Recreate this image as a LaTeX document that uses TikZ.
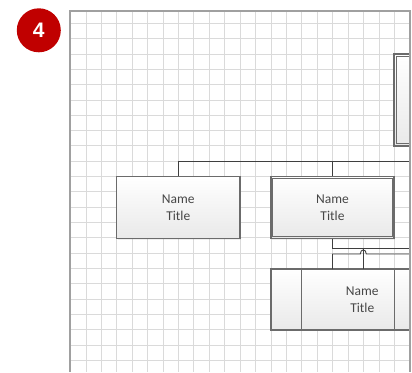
\documentclass[tikz,border=0pt]{standalone}
\usepackage{fontspec}
\setmainfont{Carlito}
\newfontfamily\badgefont{Liberation Sans Bold}
\usetikzlibrary{calc,shadows}
\definecolor{gridc}{HTML}{DADADA}
\definecolor{borderc}{HTML}{A0A0A0}
\definecolor{boxc}{HTML}{6B6B6B}
\definecolor{linec}{HTML}{3F3F3F}
\definecolor{badgec}{HTML}{C00000}
\definecolor{txtc}{HTML}{474747}
\definecolor{boxbot}{HTML}{E9E9E9}
\begin{document}
\begin{tikzpicture}[x=1pt,y=-1pt,
  gridline/.style={draw=gridc, line width=0.9pt},
  orgbox/.style={draw=boxc, line width=1.2pt, top color=white, bottom color=boxbot,
    inner sep=0pt, rectangle,
    drop shadow={shadow xshift=1pt, shadow yshift=-1.2pt, opacity=0.12}},
  innerline/.style={draw=boxc, line width=1.2pt},
  conn/.style={draw=linec, line width=0.9pt},
  lbl/.style={align=center, text=txtc, font=\fontsize{13.5}{17}\selectfont, inner sep=0pt},
  pageborder/.style={draw=borderc, line width=2pt}]
\useasboundingbox (0,0) rectangle (412,372);
\fill[white] (0,0) rectangle (412,372);
\begin{scope}
\clip (69.5,10.5) rectangle (409.5,372);
% grid
\foreach \i in {-1,...,21} \draw[gridline] (86+15.42*\i,10) -- (86+15.42*\i,372);
\foreach \j in {-1,...,22} \draw[gridline] (69,23.3+15.33*\j) -- (410,23.3+15.33*\j);
% boxes
\node[orgbox, minimum width=123.3pt, minimum height=61.6pt] (b1) at (178.3,207.5) {};
\node[lbl] (t1) at (b1.center) {Name\\Title};
\node[orgbox, minimum width=123pt, minimum height=61.6pt] (b2) at (332.5,207.5) {};
\draw[innerline] ($(b2.north west)+(2.4,2.4)$) rectangle ($(b2.south east)+(-2.4,-2.4)$);
\node[lbl] (t2) at (b2.center) {Name\\Title};
\node[orgbox, minimum width=154pt, minimum height=61pt] (b3) at (348,299.5) {};
\draw[innerline] (301.7,269) -- (301.7,330);
\draw[innerline] (394.3,269) -- (394.3,330);
\node[lbl] (t3) at (362.3,299.5) {Name\\Title};
\node[orgbox, minimum width=40pt, minimum height=92pt] (b4) at (414,100) {};
\draw[innerline] ($(b4.north west)+(3.3,3.3)$) rectangle ($(b4.south east)+(-3.3,-3.3)$);
% connectors
\coordinate (e1) at (412,161);
\coordinate (j1) at (b1.north |- e1);
\draw[conn] (b1.north) -- (j1) -- (e1);
\draw[conn] (b2.north) -- (b2.north |- e1);
\coordinate (k1) at (b2.south |- 0,248.3);
\coordinate (e2) at (412,248.3);
\draw[conn] (b2.south) -- (k1) -- (e2);
\coordinate (s1) at (332.5,269);
\coordinate (s2) at (332.5,254);
\coordinate (h1) at (360.3,254);
\coordinate (h2) at (366.3,254);
\coordinate (e3) at (412,254);
\draw[conn] (s1) -- (s2) -- (h1) .. controls (360.3,248.6) and (366.3,248.6) .. (h2) -- (e3);
\coordinate (v1) at (363.3,269);
\coordinate (v2) at (363.3,248.3);
\draw[conn] (v1) -- (v2);
\end{scope}
% page border
\draw[pageborder] (69.5,372) -- (69.5,10.5) -- (410,10.5) -- (410,372);
% badge
\node[circle, fill=badgec, minimum size=44pt, inner sep=0pt] (badge) at (38.8,30.3)
  {\badgefont\fontsize{21}{21}\selectfont\color{white}4};
\end{tikzpicture}
\end{document}
